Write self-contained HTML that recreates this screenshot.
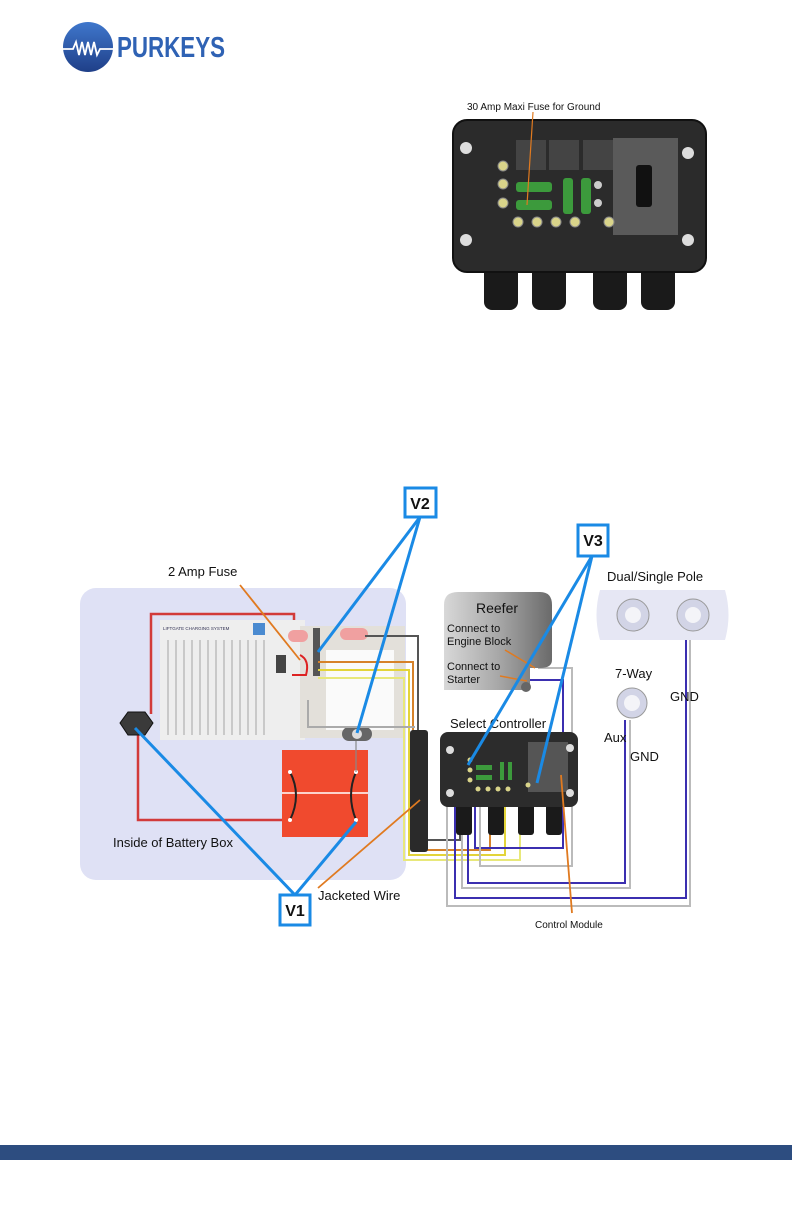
<!DOCTYPE html>
<html><head><meta charset="utf-8"><style>
html,body{margin:0;padding:0;background:#fff;}
svg{display:block;font-family:"Liberation Sans",sans-serif;}
</style></head><body>
<svg width="792" height="1224" viewBox="0 0 792 1224" xmlns="http://www.w3.org/2000/svg">
<defs>
<linearGradient id="lg" x1="0" y1="0" x2="0" y2="1"><stop offset="0" stop-color="#3f77cc"/><stop offset="1" stop-color="#1f3f88"/></linearGradient>
<linearGradient id="rf" x1="0" y1="0" x2="1" y2="0"><stop offset="0" stop-color="#d8d8d8"/><stop offset="0.5" stop-color="#a8a8a8"/><stop offset="1" stop-color="#6a6a6a"/></linearGradient>
</defs>
<!-- logo -->
<circle cx="88" cy="47" r="25" fill="url(#lg)"/>
<path d="M63 49 H73 L76 42 L79 55 L82 42 L85 55 L88 42 L91 55 L94 42 L97 55 L100 49 H113" stroke="#fff" stroke-width="1.8" fill="none"/>
<text x="117" y="57" font-size="29" font-weight="bold" fill="#2f62b4" textLength="108" lengthAdjust="spacingAndGlyphs">PURKEYS</text>

<!-- top right controller -->
<text x="467" y="110" font-size="10" fill="#111">30 Amp Maxi Fuse for Ground</text>
<g>
<rect x="484" y="255" width="34" height="55" rx="8" fill="#1a1a1a"/>
<rect x="532" y="255" width="34" height="55" rx="8" fill="#1a1a1a"/>
<rect x="593" y="255" width="34" height="55" rx="8" fill="#1a1a1a"/>
<rect x="641" y="255" width="34" height="55" rx="8" fill="#1a1a1a"/>
<rect x="453" y="120" width="253" height="152" rx="14" fill="#2b2b2b" stroke="#111" stroke-width="2"/>
<rect x="516" y="140" width="30" height="30" fill="#444"/>
<rect x="549" y="140" width="30" height="30" fill="#444"/>
<rect x="583" y="140" width="30" height="30" fill="#444"/>
<rect x="613" y="138" width="65" height="97" fill="#5a5a5a"/>
<rect x="636" y="165" width="16" height="42" rx="3" fill="#111"/>
<circle cx="466" cy="148" r="6" fill="#ddd"/><circle cx="688" cy="153" r="6" fill="#ddd"/>
<circle cx="466" cy="240" r="6" fill="#ddd"/><circle cx="688" cy="240" r="6" fill="#ddd"/>
<rect x="516" y="182" width="36" height="10" rx="3" fill="#3c9a3c"/>
<rect x="516" y="200" width="36" height="10" rx="3" fill="#3c9a3c"/>
<rect x="563" y="178" width="10" height="36" rx="3" fill="#3c9a3c"/>
<rect x="581" y="178" width="10" height="36" rx="3" fill="#3c9a3c"/>
<g fill="#d9d48a" stroke="#888" stroke-width="1">
<circle cx="503" cy="166" r="5"/><circle cx="503" cy="184" r="5"/><circle cx="503" cy="203" r="5"/>
<circle cx="518" cy="222" r="5"/><circle cx="537" cy="222" r="5"/><circle cx="556" cy="222" r="5"/><circle cx="575" cy="222" r="5"/><circle cx="609" cy="222" r="5"/>
</g>
<circle cx="598" cy="185" r="4" fill="#ccc"/><circle cx="598" cy="203" r="4" fill="#ccc"/>
<line x1="533" y1="112" x2="527" y2="205" stroke="#e07a20" stroke-width="1.2"/>
</g>

<!-- bottom diagram -->
<rect x="80" y="588" width="326" height="292" rx="16" fill="#dfe1f5"/>
<path d="M151 714 V614 H294 V642" stroke="#d23a3a" stroke-width="2.5" fill="none"/>
<path d="M138 735 V820 H290" stroke="#d23a3a" stroke-width="2.5" fill="none"/>
<rect x="160" y="620" width="145" height="120" fill="#eeeeee"/>
<g stroke="#c9c9c9" stroke-width="2">
<line x1="168" y1="640" x2="168" y2="735"/><line x1="176" y1="640" x2="176" y2="735"/><line x1="184" y1="640" x2="184" y2="735"/><line x1="192" y1="640" x2="192" y2="735"/><line x1="200" y1="640" x2="200" y2="735"/><line x1="208" y1="640" x2="208" y2="735"/><line x1="216" y1="640" x2="216" y2="735"/><line x1="224" y1="640" x2="224" y2="735"/><line x1="232" y1="640" x2="232" y2="735"/><line x1="240" y1="640" x2="240" y2="735"/><line x1="248" y1="640" x2="248" y2="735"/><line x1="256" y1="640" x2="256" y2="735"/><line x1="264" y1="640" x2="264" y2="735"/>
</g>
<text x="163" y="630" font-size="4.5" fill="#335">LIFTGATE CHARGING SYSTEM</text>
<rect x="253" y="623" width="12" height="12" fill="#4a8ad0"/>
<rect x="300" y="626" width="105" height="112" fill="#e3e0da"/>
<rect x="326" y="650" width="68" height="80" fill="#fafafa"/>
<rect x="288" y="630" width="20" height="12" rx="6" fill="#f0a0a0"/>
<rect x="340" y="628" width="28" height="12" rx="6" fill="#f0a0a0"/>
<rect x="313" y="628" width="7" height="48" fill="#555"/>
<rect x="276" y="655" width="10" height="18" fill="#444"/>
<path d="M300 655 Q310 660 306 675 H292" stroke="#d22" stroke-width="2" fill="none"/>
<rect x="282" y="750" width="86" height="87" fill="#f04a2e"/>
<line x1="282" y1="793" x2="368" y2="793" stroke="#fff" stroke-width="1.5"/>
<path d="M290 772 Q302 795 290 820" stroke="#222" stroke-width="2" fill="none"/>
<path d="M356 772 Q346 795 356 820" stroke="#222" stroke-width="2" fill="none"/>
<circle cx="290" cy="772" r="2" fill="#fff"/><circle cx="356" cy="772" r="2" fill="#fff"/><circle cx="290" cy="820" r="2" fill="#fff"/><circle cx="356" cy="820" r="2" fill="#fff"/>
<line x1="356" y1="740" x2="356" y2="772" stroke="#888" stroke-width="1.2"/>
<rect x="342" y="727" width="30" height="14" rx="7" fill="#666"/><circle cx="357" cy="734" r="5" fill="#ddd"/>
<polygon points="128,712 145,712 153,723 145,735 128,735 120,723" fill="#3a3a3a" stroke="#111"/>
<g fill="none" stroke-width="2">
<path d="M365 636 H418 V840 H460 V805" stroke="#555"/>
<path d="M318 662 H413 V850 H490 V805" stroke="#d6822a"/>
<path d="M318 670 H409 V855 H505 V805" stroke="#e3d43a"/>
<path d="M318 678 H404 V860 H520 V805" stroke="#e8e87a"/>
<path d="M308 700 V727 H415" stroke="#aaa"/>
<path d="M455 770 V898 H686 V640" stroke="#3b2fb0"/>
<path d="M447 770 V906 H690 V640" stroke="#bbb"/>
<path d="M468 785 V883 H625 V720" stroke="#3b2fb0"/>
<path d="M462 780 V888 H630 V720" stroke="#bbb"/>
<path d="M475 790 V848 H563 V680 H528" stroke="#3b2fb0"/>
<path d="M480 800 V866 H572 V668 H538" stroke="#bbb"/>
</g>
<rect x="410" y="730" width="18" height="122" rx="3" fill="#2a2a2a"/>
<path d="M444 690 V605 Q444 592 458 592 H540 Q552 592 552 605 V660 Q552 668 540 668 H530 V690 Z" fill="url(#rf)"/>
<circle cx="526" cy="687" r="5" fill="#666"/>
<text x="476" y="613" font-size="14" fill="#111">Reefer</text>
<text x="447" y="632" font-size="11" fill="#111">Connect to</text>
<text x="447" y="645" font-size="11" fill="#111">Engine Block</text>
<text x="447" y="670" font-size="11" fill="#111">Connect to</text>
<text x="447" y="683" font-size="11" fill="#111">Starter</text>
<line x1="505" y1="650" x2="535" y2="668" stroke="#e07a20" stroke-width="1.5"/>
<line x1="500" y1="676" x2="527" y2="681" stroke="#e07a20" stroke-width="1.5"/>
<text x="450" y="728" font-size="13" fill="#111">Select Controller</text>
<rect x="456" y="795" width="16" height="40" rx="3" fill="#1a1a1a"/>
<rect x="488" y="795" width="16" height="40" rx="3" fill="#1a1a1a"/>
<rect x="518" y="795" width="16" height="40" rx="3" fill="#1a1a1a"/>
<rect x="546" y="795" width="16" height="40" rx="3" fill="#1a1a1a"/>
<rect x="440" y="732" width="138" height="75" rx="8" fill="#2c2c2c"/>
<rect x="528" y="742" width="40" height="50" fill="#555"/>
<rect x="476" y="765" width="16" height="5" fill="#3c9a3c"/><rect x="476" y="775" width="16" height="5" fill="#3c9a3c"/>
<rect x="500" y="762" width="4" height="18" fill="#3c9a3c"/><rect x="508" y="762" width="4" height="18" fill="#3c9a3c"/>
<g fill="#d9d48a"><circle cx="470" cy="760" r="2.5"/><circle cx="470" cy="770" r="2.5"/><circle cx="470" cy="780" r="2.5"/><circle cx="478" cy="789" r="2.5"/><circle cx="488" cy="789" r="2.5"/><circle cx="498" cy="789" r="2.5"/><circle cx="508" cy="789" r="2.5"/><circle cx="528" cy="785" r="2.5"/></g>
<circle cx="450" cy="750" r="4" fill="#ddd"/><circle cx="570" cy="748" r="4" fill="#ddd"/><circle cx="450" cy="793" r="4" fill="#ddd"/><circle cx="570" cy="793" r="4" fill="#ddd"/>
<text x="607" y="581" font-size="13" fill="#111">Dual/Single Pole</text>
<path d="M600 590 H725 Q732 615 725 640 H600 Q593 615 600 590 Z" fill="#e6e7f4"/>
<circle cx="633" cy="615" r="16" fill="#d2d4e6" stroke="#999"/><circle cx="633" cy="615" r="8" fill="#f4f4f8"/>
<circle cx="693" cy="615" r="16" fill="#d2d4e6" stroke="#999"/><circle cx="693" cy="615" r="8" fill="#f4f4f8"/>
<text x="615" y="678" font-size="13" fill="#111">7-Way</text>
<circle cx="632" cy="703" r="15" fill="#d2d4e6" stroke="#999"/><circle cx="632" cy="703" r="8" fill="#f4f4f8"/>
<text x="670" y="701" font-size="13" fill="#111">GND</text>
<text x="604" y="742" font-size="13" fill="#111">Aux</text>
<text x="630" y="761" font-size="13" fill="#111">GND</text>
<text x="168" y="576" font-size="13" fill="#111">2 Amp Fuse</text>
<text x="113" y="847" font-size="13" fill="#111">Inside of Battery Box</text>
<text x="318" y="900" font-size="13" fill="#111">Jacketed Wire</text>
<text x="535" y="928" font-size="10" fill="#111">Control Module</text>
<line x1="240" y1="585" x2="300" y2="660" stroke="#e07a20" stroke-width="1.8"/>
<line x1="318" y1="888" x2="420" y2="800" stroke="#e07a20" stroke-width="1.8"/>
<line x1="572" y1="913" x2="561" y2="775" stroke="#e07a20" stroke-width="1.8"/>
<g stroke="#1a8ae5" stroke-width="3" fill="none">
<line x1="420" y1="517" x2="318" y2="652"/>
<line x1="420" y1="517" x2="357" y2="733"/>
<line x1="592" y1="556" x2="468" y2="765"/>
<line x1="592" y1="556" x2="537" y2="783"/>
<line x1="295" y1="895" x2="135" y2="728"/>
<line x1="295" y1="895" x2="356" y2="822"/>
</g>
<g stroke="#1a8ae5" stroke-width="3" fill="#fff">
<rect x="405" y="488" width="31" height="29"/>
<rect x="578" y="525" width="30" height="31"/>
<rect x="280" y="895" width="30" height="30"/>
</g>
<g font-size="16" font-weight="bold" fill="#111" text-anchor="middle">
<text x="420" y="509">V2</text><text x="593" y="546">V3</text><text x="295" y="916">V1</text>
</g>
<rect x="0" y="1145" width="792" height="15" fill="#2d4d80"/>
</svg>
</body></html>
